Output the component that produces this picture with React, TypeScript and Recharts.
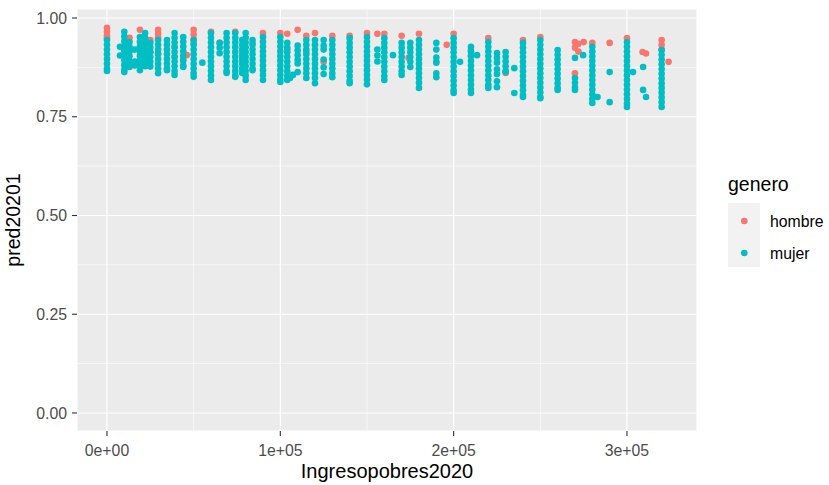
import React from "react";
import { ScatterChart, Scatter, XAxis, YAxis, CartesianGrid } from "recharts";

// columnas de ingreso y predicciones
const mujerIngresos = [
  0, 7500, 10000, 13000, 16000, 19000, 22000, 25000, 29500, 34600, 39000, 44000, 50000, 55000,
  60000, 65000, 69000, 74000, 78000, 80000, 84000, 90000, 100000, 104000, 105600, 107300, 110000,
  115000, 120000, 125000, 130000, 140000, 150000, 156000, 160000, 165000, 170000, 175000, 180000,
  190000, 200000, 203700, 210000, 213500, 220000, 225000, 230000, 235000, 240000, 250000, 260000,
  270000, 274700, 280000, 283000, 290000, 300000, 303500, 309300, 311000, 320000,
];

const mujerPred = [
  [0.944, 0.932, 0.92, 0.908, 0.896, 0.884, 0.872, 0.866],
  [0.927, 0.905],
  [0.965, 0.953, 0.941, 0.929, 0.917, 0.905, 0.893, 0.881, 0.869, 0.863],
  [0.939, 0.927, 0.915, 0.903, 0.891, 0.879, 0.876],
  [0.92, 0.89, 0.88],
  [0.952, 0.94, 0.928, 0.916, 0.904, 0.892, 0.88, 0.868],
  [0.962, 0.95, 0.938, 0.926, 0.914, 0.902, 0.89, 0.878],
  [0.937, 0.925, 0.913, 0.901, 0.889, 0.877],
  [0.944, 0.932, 0.92, 0.908, 0.896, 0.884, 0.872, 0.86],
  [0.944, 0.932, 0.92, 0.908, 0.896, 0.884, 0.872, 0.868],
  [0.962, 0.95, 0.938, 0.926, 0.914, 0.902, 0.89, 0.878, 0.866, 0.856],
  [0.952, 0.94, 0.928, 0.916, 0.904, 0.892, 0.88, 0.876],
  [0.944, 0.932, 0.92, 0.908, 0.896, 0.884, 0.872, 0.86, 0.851],
  [0.887],
  [0.962, 0.95, 0.938, 0.926, 0.914, 0.902, 0.89, 0.878, 0.866, 0.854, 0.843],
  [0.937, 0.925, 0.911],
  [0.962, 0.95, 0.938, 0.926, 0.914, 0.902, 0.89, 0.878, 0.866, 0.861],
  [0.962, 0.95, 0.938, 0.926, 0.914, 0.902, 0.89, 0.878, 0.866, 0.854, 0.851],
  [0.944, 0.932, 0.92, 0.908, 0.896, 0.884, 0.872, 0.861],
  [0.962, 0.95, 0.938, 0.926, 0.914, 0.902, 0.89, 0.878, 0.866, 0.854, 0.843],
  [0.944, 0.932, 0.92, 0.908, 0.896, 0.884, 0.872, 0.868],
  [0.952, 0.94, 0.928, 0.916, 0.904, 0.892, 0.88, 0.868, 0.856, 0.843],
  [0.952, 0.94, 0.928, 0.916, 0.904, 0.892, 0.88, 0.868, 0.856, 0.844, 0.838],
  [0.937, 0.925, 0.913, 0.901, 0.889, 0.877, 0.865, 0.853, 0.843],
  [0.848],
  [0.856],
  [0.93, 0.918, 0.906, 0.894, 0.885, 0.863],
  [0.944, 0.932, 0.92, 0.908, 0.896, 0.884, 0.872, 0.86, 0.848],
  [0.944, 0.932, 0.92, 0.908, 0.896, 0.884, 0.872, 0.86, 0.848, 0.835],
  [0.944, 0.93, 0.92, 0.895, 0.875, 0.858],
  [0.944, 0.932, 0.92, 0.908, 0.896, 0.884, 0.872, 0.86, 0.85],
  [0.949, 0.937, 0.925, 0.913, 0.901, 0.889, 0.877, 0.865, 0.853, 0.841, 0.835],
  [0.952, 0.94, 0.928, 0.916, 0.904, 0.892, 0.88, 0.868, 0.856, 0.844, 0.832],
  [0.92, 0.905, 0.89],
  [0.949, 0.937, 0.925, 0.913, 0.901, 0.889, 0.877, 0.865, 0.853, 0.843],
  [0.906],
  [0.937, 0.925, 0.913, 0.901, 0.889, 0.877, 0.865, 0.856],
  [0.937, 0.925, 0.913, 0.901, 0.889, 0.876],
  [0.944, 0.932, 0.92, 0.908, 0.896, 0.884, 0.872, 0.86, 0.848, 0.836, 0.823],
  [0.937, 0.92, 0.9, 0.887, 0.86, 0.85],
  [0.949, 0.937, 0.925, 0.913, 0.901, 0.889, 0.877, 0.865, 0.853, 0.841, 0.829, 0.817, 0.81],
  [0.889],
  [0.927, 0.915, 0.903, 0.891, 0.879, 0.867, 0.855, 0.843, 0.831, 0.819, 0.81],
  [0.906],
  [0.939, 0.927, 0.915, 0.903, 0.891, 0.879, 0.867, 0.855, 0.843, 0.831, 0.823],
  [0.911, 0.899, 0.887, 0.87, 0.858, 0.84, 0.825],
  [0.914, 0.902, 0.89, 0.878, 0.866, 0.863],
  [0.873, 0.81],
  [0.937, 0.925, 0.913, 0.901, 0.889, 0.877, 0.865, 0.853, 0.841, 0.829, 0.817, 0.805, 0.8],
  [0.944, 0.932, 0.92, 0.908, 0.896, 0.884, 0.872, 0.86, 0.848, 0.836, 0.824, 0.812, 0.8, 0.797],
  [0.919, 0.907, 0.895, 0.883, 0.871, 0.859, 0.847, 0.835, 0.823, 0.818],
  [0.899, 0.848, 0.836, 0.824, 0.818],
  [0.906],
  [0.927, 0.915, 0.903, 0.891, 0.879, 0.867, 0.855, 0.843, 0.831, 0.819, 0.807, 0.795, 0.785],
  [0.8],
  [0.863, 0.787],
  [0.939, 0.927, 0.915, 0.903, 0.891, 0.879, 0.867, 0.855, 0.843, 0.831, 0.819, 0.807, 0.795, 0.783, 0.775],
  [0.863],
  [0.876, 0.818],
  [0.8],
  [0.919, 0.907, 0.895, 0.883, 0.871, 0.859, 0.847, 0.835, 0.823, 0.811, 0.799, 0.787, 0.775],
];

const hombreIngresos = [
  0, 13000, 19000, 25000, 29500, 39000, 44000, 46000, 50000, 60000, 65000, 74000, 78000, 84000,
  90000, 100000, 104000, 110000, 115000, 120000, 125000, 130000, 140000, 150000, 156000, 160000,
  170000, 174000, 180000, 190000, 196000, 200000, 210000, 220000, 230000, 240000, 250000, 270000,
  272000, 275000, 280000, 290000, 300000, 309000, 311000, 320000, 324000,
];

const hombrePred = [
  [0.975, 0.965, 0.955, 0.949],
  [0.95],
  [0.97],
  [0.944, 0.914],
  [0.97, 0.96, 0.95, 0.91],
  [0.927, 0.901],
  [0.894],
  [0.906],
  [0.97, 0.958, 0.946, 0.937],
  [0.965],
  [0.937],
  [0.965],
  [0.919, 0.905, 0.894],
  [0.937],
  [0.962],
  [0.962],
  [0.96, 0.92],
  [0.97],
  [0.955, 0.914],
  [0.962],
  [0.889],
  [0.955],
  [0.955],
  [0.962],
  [0.96],
  [0.96],
  [0.955],
  [0.899],
  [0.96],
  [0.889],
  [0.932],
  [0.96],
  [0.919, 0.905],
  [0.949],
  [0.861],
  [0.944],
  [0.952],
  [0.939, 0.925, 0.86],
  [0.935, 0.915],
  [0.939],
  [0.937],
  [0.937],
  [0.949],
  [0.914],
  [0.91],
  [0.944, 0.932, 0.92],
  [0.889],
];

const generos = ["hombre", "mujer"] as const;
const xTicks = [0, 100000, 200000, 300000];
const yTicks = [0, 0.25, 0.5, 0.75, 1];
const xMinor = [50000, 150000, 250000];
const yMinor = [0.125, 0.375, 0.625, 0.875];

const COLORS = { hombre: "#F8766D", mujer: "#00BFC4" };
const FONT = '"Liberation Sans", Arial, sans-serif';

const toPoints = (ingresos: number[], pred: number[][]) =>
  ingresos.flatMap((x, i) => pred[i].map((y) => ({ x, y })));

const hombreData = toPoints(hombreIngresos, hombrePred);
const mujerData = toPoints(mujerIngresos, mujerPred);

const dot = (color: string) => (props: any) =>
  <circle cx={props.cx} cy={props.cy} r={3.3} fill={color} />;

const fmtX = (v: number) => (v === 0 ? "0e+00" : `${v / 100000}e+05`);

const App: React.FC = () => {
  return (
    <div style={{ position: "absolute", left: 0, top: 0, width: 829, height: 485, background: "#fff", fontFamily: FONT }}>
      <ScatterChart width={829} height={485} margin={{ top: 9, right: 132, bottom: 0, left: 0 }}>
        <CartesianGrid fill="#EBEBEB" fillOpacity={1} stroke="#FFFFFF" strokeWidth={1.2} />
        <CartesianGrid stroke="#FFFFFF" strokeWidth={0.6} horizontalValues={yMinor} verticalValues={xMinor} />
        <XAxis
          type="number"
          dataKey="x"
          domain={[-17300, 340400]}
          ticks={xTicks}
          allowDataOverflow
          tickFormatter={fmtX}
          axisLine={false}
          tickLine={{ stroke: "#333333", strokeWidth: 1.1 }}
          tickSize={5}
          tickMargin={9}
          height={54}
          tick={{ fill: "#4D4D4D", fontSize: 15.8, fontFamily: FONT }}
          label={{
            content: ({ viewBox }: any) => (
              <text x={viewBox.x + viewBox.width / 2} y={viewBox.y + 47} textAnchor="middle" fontSize={20} fontFamily={FONT} fill="#000">
                Ingresopobres2020
              </text>
            ),
          }}
        />
        <YAxis
          type="number"
          dataKey="y"
          domain={[-0.0456, 1.0228]}
          ticks={yTicks}
          allowDataOverflow
          tickFormatter={(v: number) => v.toFixed(2)}
          axisLine={false}
          tickLine={{ stroke: "#333333", strokeWidth: 1.1 }}
          tickSize={5}
          tickMargin={5}
          width={77}
          tick={{ fill: "#4D4D4D", fontSize: 15.8, fontFamily: FONT }}
          label={{
            content: ({ viewBox }: any) => {
              const cx = 20;
              const cy = viewBox.y + viewBox.height / 2;
              return (
                <text x={cx} y={cy} transform={`rotate(-90 ${cx} ${cy})`} textAnchor="middle" fontSize={19.5} fontFamily={FONT} fill="#000">
                  pred20201
                </text>
              );
            },
          }}
        />
        <Scatter name="hombre" data={hombreData} fill={COLORS.hombre} shape={dot(COLORS.hombre)} isAnimationActive={false} />
        <Scatter name="mujer" data={mujerData} fill={COLORS.mujer} shape={dot(COLORS.mujer)} isAnimationActive={false} />
      </ScatterChart>

      {/* leyenda al estilo ggplot */}
      <svg width={829} height={485} style={{ position: "absolute", left: 0, top: 0, pointerEvents: "none" }}>
        <text x={728} y={191} fontSize={19.5} fontFamily={FONT} fill="#000">genero</text>
        <rect x={728} y={203} width={32} height={64} fill="#F2F2F2" />
        {generos.map((g, i) => (
          <g key={g}>
            <circle cx={744.3} cy={221 + i * 32} r={3.3} fill={COLORS[g]} />
            <text x={770} y={226.5 + i * 32} fontSize={15.8} fontFamily={FONT} fill="#000">{g}</text>
          </g>
        ))}
      </svg>
    </div>
  );
};

export default App;
